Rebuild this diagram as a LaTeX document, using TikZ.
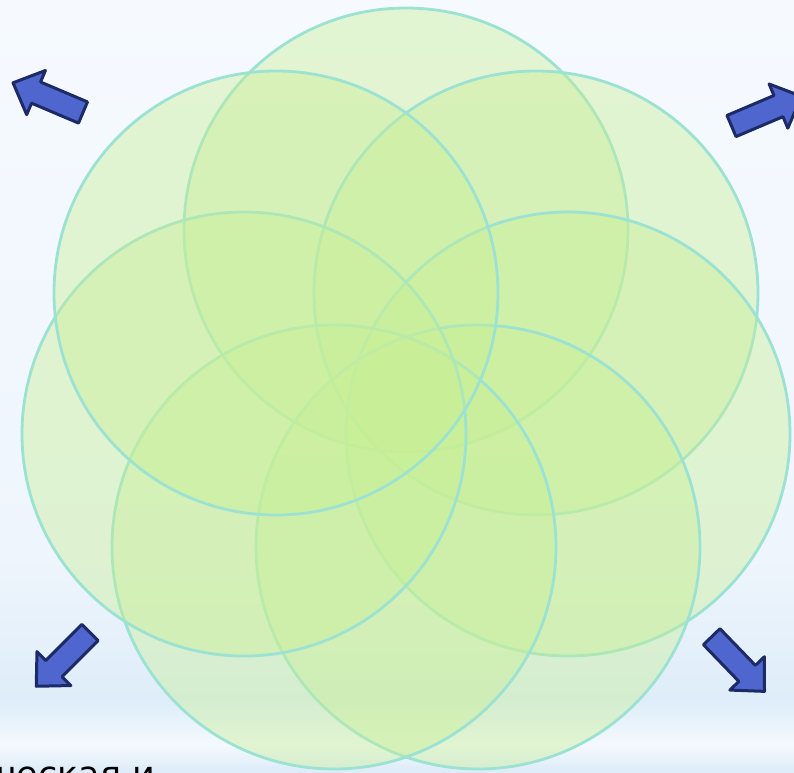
\documentclass[tikz,border=0pt]{standalone}
\usepackage{fontspec}
\newfontfamily\cyrsans{DejaVu Sans}
\definecolor{bgA}{HTML}{F6FAFF}
\definecolor{bgB}{HTML}{EEF5FC}
\definecolor{bgC}{HTML}{DEEDF9}
\definecolor{bgD}{HTML}{F4F9FD}
\definecolor{bgE}{HTML}{DCEBF8}
\definecolor{petalfill}{RGB}{200,239,150}
\definecolor{petalline}{RGB}{155,226,210}
\definecolor{arrowfill}{HTML}{4F66CF}
\definecolor{arrowline}{HTML}{1C2A66}
\tikzset{
  petal/.style={circle, minimum size=444pt, inner sep=0pt, draw=petalline, line width=2.8pt,
    fill=petalfill, fill opacity=0.42, draw opacity=1},
  blockarrow/.style={fill=arrowfill, draw=arrowline, line width=3pt, line join=round},
}
\newcommand\blockarr[3]{%
  \draw[blockarrow, shift={(#1,#2)}, rotate=#3]
    (0,-11.5) -- (51,-11.5) -- (51,-24) -- (76,0) -- (51,24) -- (51,11.5) -- (0,11.5) -- cycle;}
\begin{document}
\begin{tikzpicture}[x=1pt,y=1pt]
\useasboundingbox (0,0) rectangle (794,-772);
\begin{scope}
\clip (0,0) rectangle (794,-772);
% background
\fill[top color=bgA, bottom color=bgB, draw=none] (0,0) rectangle (794,-560);
\fill[top color=bgB, bottom color=bgC, draw=none] (0,-560) rectangle (794,-700);
\fill[top color=bgC, bottom color=bgD, draw=none] (0,-700) rectangle (794,-745);
\fill[top color=bgD, bottom color=bgE, draw=none] (0,-745) rectangle (794,-772);
% petals
\node[petal] (top)  at (406,-230) {};
\node[petal] (ur)   at (536,-293) {};
\node[petal] (r)    at (568,-434) {};
\node[petal] (lr)   at (478,-547) {};
\node[petal] (ll)   at (334,-547) {};
\node[petal] (l)    at (244,-434) {};
\node[petal] (ul)   at (276,-293) {};
% arrows
\blockarr{83}{-112.5}{157}
\blockarr{731.5}{-126}{23}
\blockarr{90}{-632.5}{225}
\blockarr{711.7}{-636.7}{314}
% cut-off caption
\node[anchor=base west, inner sep=0pt, font=\cyrsans\fontsize{35}{40}\selectfont, text=black]
  (caption) at (-4,-786) {ческая и};
\end{scope}
\end{tikzpicture}
\end{document}
